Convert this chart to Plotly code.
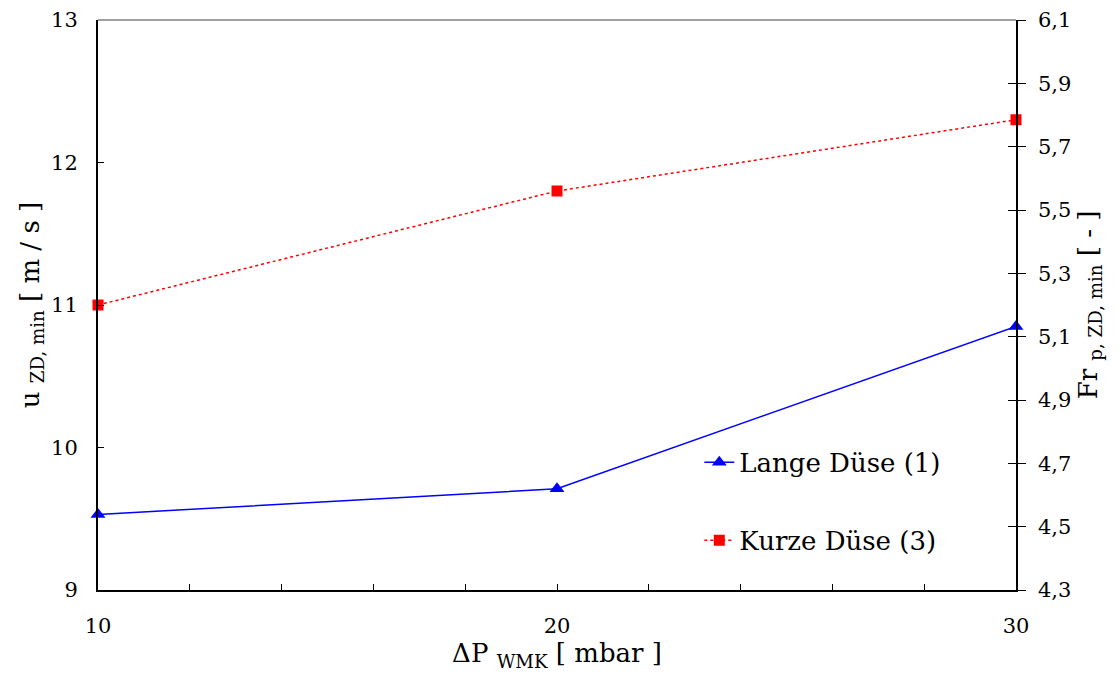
import plotly.graph_objects as go

# Data
dp = [10, 20, 30]
lange = [9.53, 9.71, 10.85]
kurze = [11.0, 11.8, 12.3]

left_ticks = [9, 10, 11, 12, 13]
right_ticks = [4.3, 4.5, 4.7, 4.9, 5.1, 5.3, 5.5, 5.7, 5.9, 6.1]
right_labels = ["4,3", "4,5", "4,7", "4,9", "5,1", "5,3", "5,5", "5,7", "5,9", "6,1"]
x_ticks = [10, 20, 30]

FONT = "DejaVu Serif"

fig = go.Figure()
fig.add_trace(go.Scatter(
    x=dp, y=lange, mode="lines+markers", name="Lange Düse (1)",
    line=dict(color="#0000FF", width=1.5),
    marker=dict(symbol="triangle-up", size=13, color="#0000FF"),
    legendgroup="a", cliponaxis=False,
))
fig.add_trace(go.Scatter(
    x=dp, y=kurze, mode="lines+markers", name="Kurze Düse (3)",
    line=dict(color="#FF0000", width=1.5, dash="dot"),
    marker=dict(symbol="square", size=11, color="#FF0000"),
    legendgroup="b", cliponaxis=False,
))
# invisible traces to show right axes
fig.add_trace(go.Scatter(x=[dp[0]], y=[right_ticks[0]], yaxis="y2", mode="markers",
                         marker=dict(opacity=0), showlegend=False, hoverinfo="skip"))
fig.add_trace(go.Scatter(x=[dp[0]], y=[right_ticks[0]], yaxis="y3", mode="markers",
                         marker=dict(opacity=0), showlegend=False, hoverinfo="skip"))

fig.update_layout(
    width=1120, height=679,
    margin=dict(l=98, r=104, t=20, b=89),
    plot_bgcolor="white", paper_bgcolor="white",
    font=dict(family=FONT, size=21, color="black"),
    xaxis=dict(
        range=[10, 30], tickvals=x_ticks, ticks="inside", ticklen=6, tickcolor="black",
        showline=True, linecolor="black", linewidth=2, showgrid=False, zeroline=False,
        tickfont=dict(family=FONT, size=21), ticklabelstandoff=16, automargin=False,
        minor=dict(dtick=2, ticks="inside", ticklen=6, tickcolor="black", showgrid=False),
        title=dict(text="ΔP <sub>WMK</sub> [ mbar ]", font=dict(family=FONT, size=26), standoff=4),
    ),
    yaxis=dict(
        range=[9, 13], tickvals=left_ticks, ticks="inside", ticklen=6, tickcolor="black",
        showline=True, linecolor="black", linewidth=2, showgrid=False, zeroline=False,
        tickfont=dict(family=FONT, size=21), ticklabelstandoff=14, automargin=False,
        title=dict(text="u <sub>ZD, min</sub> [ m / s ]", font=dict(family=FONT, size=26), standoff=4),
    ),
    yaxis2=dict(
        range=[4.3, 6.1], overlaying="y", side="right", tickvals=right_ticks, ticktext=right_labels,
        ticks="outside", ticklen=8, tickcolor="black", automargin=False,
        showline=True, linecolor="black", linewidth=1.5, showgrid=False, zeroline=False,
        tickfont=dict(family=FONT, size=21), ticklabelstandoff=8,
        title=dict(text="Fr <sub>p, ZD, min</sub> [ - ]", font=dict(family=FONT, size=26), standoff=8),
    ),
    yaxis3=dict(
        range=[4.3, 6.1], overlaying="y", side="right", tickvals=right_ticks, automargin=False,
        ticks="inside", ticklen=8, tickcolor="black", showticklabels=False,
        showline=False, showgrid=False, zeroline=False,
    ),
    legend=dict(
        x=0.655, y=0.265, xanchor="left", yanchor="top",
        font=dict(family=FONT, size=26), bgcolor="rgba(0,0,0,0)",
        traceorder="grouped", tracegroupgap=41,
    ),
    shapes=[dict(type="line", xref="paper", yref="paper", x0=0, x1=1, y0=1, y1=1,
                 line=dict(color="#808080", width=1.5))],
)

fig.write_html("out.html")
